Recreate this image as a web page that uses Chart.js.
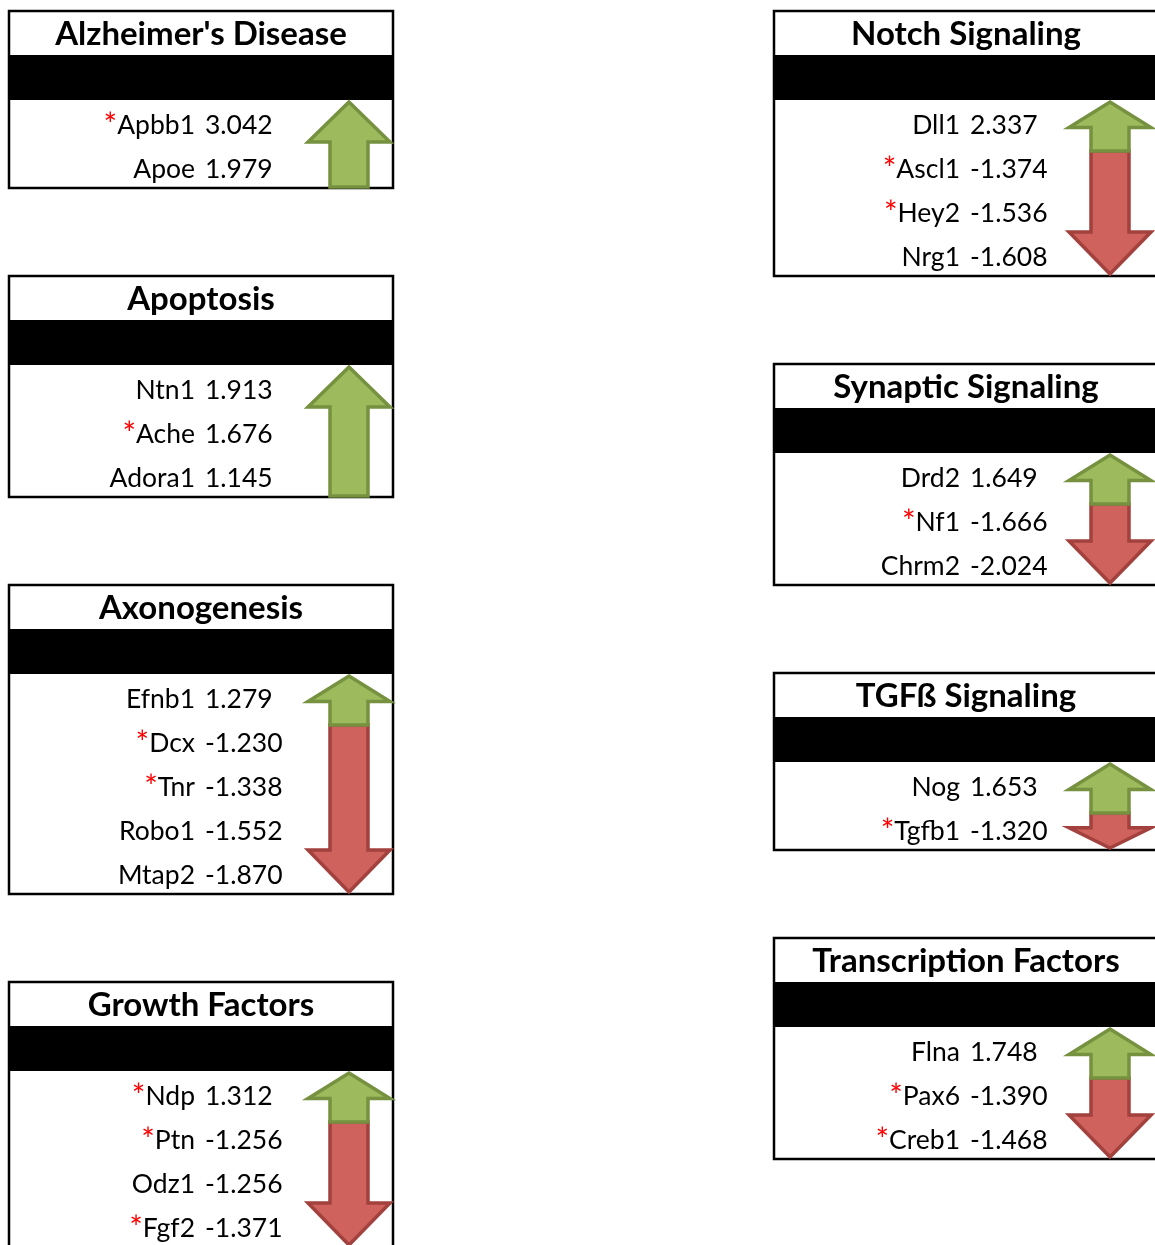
<!DOCTYPE html>
<html lang="en">
<head>
<meta charset="UTF-8">
<title>Gene panels</title>
<script src="https://cdn.jsdelivr.net/npm/chart.js"></script>
<style>
  body { margin: 0; background: #fff; }
  #wrap { width: 1155px; height: 1245px; position: relative; }
</style>
</head>
<body>
<div id="wrap"><canvas id="myChart"></canvas></div>
<script>
// data per panel: gene, fold change, significant (*)
var alzGenes = ['Apbb1', 'Apoe'];
var alzFC = [3.042, 1.979];
var alzStar = [true, false];

var apoGenes = ['Ntn1', 'Ache', 'Adora1'];
var apoFC = [1.913, 1.676, 1.145];
var apoStar = [false, true, false];

var axoGenes = ['Efnb1', 'Dcx', 'Tnr', 'Robo1', 'Mtap2'];
var axoFC = [1.279, -1.230, -1.338, -1.552, -1.870];
var axoStar = [false, true, true, false, false];

var gfGenes = ['Ndp', 'Ptn', 'Odz1', 'Fgf2'];
var gfFC = [1.312, -1.256, -1.256, -1.371];
var gfStar = [true, true, false, true];

var notchGenes = ['Dll1', 'Ascl1', 'Hey2', 'Nrg1'];
var notchFC = [2.337, -1.374, -1.536, -1.608];
var notchStar = [false, true, true, false];

var synGenes = ['Drd2', 'Nf1', 'Chrm2'];
var synFC = [1.649, -1.666, -2.024];
var synStar = [false, true, false];

var tgfGenes = ['Nog', 'Tgfb1'];
var tgfFC = [1.653, -1.320];
var tgfStar = [false, true];

var tfGenes = ['Flna', 'Pax6', 'Creb1'];
var tfFC = [1.748, -1.390, -1.468];
var tfStar = [false, true, true];

var leftTitles = ["Alzheimer's Disease", 'Apoptosis', 'Axonogenesis', 'Growth Factors'];
var rightTitles = ['Notch Signaling', 'Synaptic Signaling', 'TGF\u00df Signaling', 'Transcription Factors'];

var leftPanels = [
  {title: leftTitles[0], genes: alzGenes, fc: alzFC, star: alzStar},
  {title: leftTitles[1], genes: apoGenes, fc: apoFC, star: apoStar},
  {title: leftTitles[2], genes: axoGenes, fc: axoFC, star: axoStar},
  {title: leftTitles[3], genes: gfGenes, fc: gfFC, star: gfStar}
];
var rightPanels = [
  {title: rightTitles[0], genes: notchGenes, fc: notchFC, star: notchStar},
  {title: rightTitles[1], genes: synGenes, fc: synFC, star: synStar},
  {title: rightTitles[2], genes: tgfGenes, fc: tgfFC, star: tgfStar},
  {title: rightTitles[3], genes: tfGenes, fc: tfFC, star: tfStar}
];

// layout (in scale units == pixels)
var BOX_W = 384, TITLE_H = 44, BAND_H = 45, ROW_H = 44, GAP = 88, TOP = 11;
var columns = [
  {x: 9, arrowX: 340, panels: leftPanels},
  {x: 774, arrowX: 336, panels: rightPanels}
];

var GREEN = '#9dba5c', GREEN_LINE = '#76913f';
var RED = '#cf625d', RED_LINE = '#a2413d';

// up: tip at top, base below; down: tip at bottom, base above
function arrowPath(ctx, cx, tip, base, headH, up) {
  var hw = 41, sw = 19, d = up ? 1 : -1;
  ctx.beginPath();
  ctx.moveTo(cx, tip);
  ctx.lineTo(cx + hw, tip + d * headH);
  ctx.lineTo(cx + sw, tip + d * headH);
  ctx.lineTo(cx + sw, base);
  ctx.lineTo(cx - sw, base);
  ctx.lineTo(cx - sw, tip + d * headH);
  ctx.lineTo(cx - hw, tip + d * headH);
  ctx.closePath();
}

var panelPlugin = {
  id: 'panels',
  afterDatasetsDraw: function(chart) {
    var ctx = chart.ctx;
    var sx = chart.scales.x, sy = chart.scales.y;
    function px(v) { return sx.getPixelForValue(v); }
    function py(v) { return sy.getPixelForValue(v); }
    ctx.save();
    columns.forEach(function(col) {
      var top = TOP;
      col.panels.forEach(function(p) {
        var n = p.genes.length;
        var bandTop = top + TITLE_H, bandBot = bandTop + BAND_H;
        var bottom = bandBot + ROW_H * n;
        var left = col.x, right = col.x + BOX_W;

        // black band
        ctx.fillStyle = '#000';
        ctx.fillRect(px(left), py(bandTop), px(right) - px(left), py(bandBot) - py(bandTop));
        // outline
        ctx.strokeStyle = '#000';
        ctx.lineWidth = 2.5;
        ctx.strokeRect(px(left), py(top), px(right) - px(left), py(bottom) - py(top));

        // title
        ctx.fillStyle = '#000';
        ctx.font = 'bold 33px Lato';
        ctx.textAlign = 'center';
        ctx.textBaseline = 'middle';
        ctx.fillText(p.title, px(left + BOX_W / 2), py(top + 23));

        // rows
        for (var i = 0; i < n; i++) {
          var cy = py(bandBot + 25 + ROW_H * i);
          ctx.font = '26.5px Lato';
          ctx.fillStyle = '#000';
          ctx.textAlign = 'right';
          ctx.fillText(p.genes[i], px(left + 186), cy);
          var w = ctx.measureText(p.genes[i]).width;
          ctx.textAlign = 'left';
          ctx.fillText(p.fc[i].toFixed(3), px(left + 196), cy);
          if (p.star[i]) {
            ctx.font = '32px Lato';
            ctx.fillStyle = '#ff0000';
            ctx.textAlign = 'right';
            ctx.fillText('*', px(left + 186) - w, cy + 1);
          }
        }

        // arrows
        var up = p.fc.filter(function(v) { return v > 0; }).length;
        var down = n - up;
        var cx = px(left + col.arrowX);
        var aTop = bandBot + 2;
        ctx.lineWidth = 3.5;
        ctx.lineJoin = 'miter';
        if (down === 0) {
          arrowPath(ctx, cx, py(aTop), py(bottom - 1), 40, true);
          ctx.fillStyle = GREEN; ctx.fill();
          ctx.strokeStyle = GREEN_LINE; ctx.stroke();
        } else {
          var split = bandBot + ROW_H * up + 7;
          var redH = (bottom - 2) - split;
          arrowPath(ctx, cx, py(bottom - 2), py(split), Math.min(42, 0.58 * redH), false);
          ctx.fillStyle = RED; ctx.fill();
          ctx.strokeStyle = RED_LINE; ctx.stroke();
          var greenH = split - aTop;
          arrowPath(ctx, cx, py(aTop), py(split), Math.min(40, 0.52 * greenH), true);
          ctx.fillStyle = GREEN; ctx.fill();
          ctx.strokeStyle = GREEN_LINE; ctx.stroke();
        }
        top = bottom + GAP;
      });
    });
    ctx.restore();
  }
};

new Chart(document.getElementById('myChart'), {
  type: 'scatter',
  data: { datasets: [{ data: [] }] },
  options: {
    responsive: true,
    maintainAspectRatio: false,
    animation: false,
    layout: { padding: 0 },
    plugins: { legend: { display: false }, tooltip: { enabled: false } },
    scales: {
      x: { type: 'linear', min: 0, max: 1155, display: false },
      y: { type: 'linear', min: 0, max: 1245, reverse: true, display: false }
    }
  },
  plugins: [panelPlugin]
});
</script>
</body>
</html>
